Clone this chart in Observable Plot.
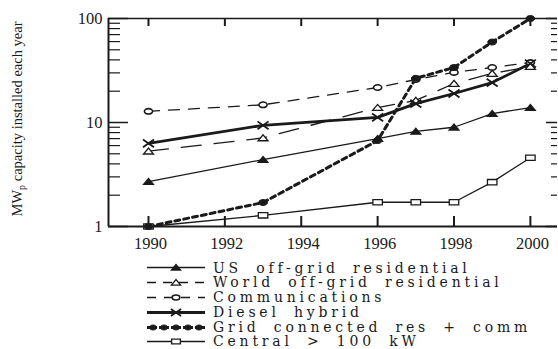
<!DOCTYPE html>
<html><head><meta charset="utf-8">
<script src="https://cdn.jsdelivr.net/npm/d3@7"></script>
<script src="https://cdn.jsdelivr.net/npm/@observablehq/plot@0.6"></script>
<style>
body{margin:0;background:#fff;width:558px;height:349px;overflow:hidden;position:relative;font-family:"Liberation Serif",serif;}
#chart{position:absolute;left:0;top:0;}
#legend{position:absolute;left:147px;top:260.5px;}
.row{height:14.8px;display:flex;align-items:center;font-family:"DejaVu Serif",serif;font-size:14px;letter-spacing:3.8px;word-spacing:6px;color:#1a1a1a;white-space:nowrap;line-height:14.8px}
.row svg{margin-right:6px;flex:none}
</style></head><body>
<div id="chart"></div><div id="legend"></div>
<script>
// ---- data ----
const years = [1990, 1993, 1996, 1997, 1998, 1999, 2000];
const usOffGrid      = [2.7, 4.4, 7.0, 8.2, 9.0, 12.2, 13.9];
const worldOffGrid   = [5.3, 7.1, 13.9, 16.3, 23.7, 29.6, 34.5];
const communications = [12.8, 14.8, 21.7, 25.9, 30.3, 33.8, 37.7];
const dieselHybrid   = [6.3, 9.4, 11.2, 15.2, 19.0, 24.2, 36.9];
const gridConnected  = [1.0, 1.7, 6.7, 26.6, 33.8, 59.4, 100];
const central        = [1.0, 1.28, 1.71, 1.71, 1.71, 2.67, 4.58];
const seriesNames = ["US off-grid residential", "World off-grid residential", "Communications",
  "Diesel hybrid", "Grid connected res + comm", "Central > 100 kW"];
const seriesValues = [usOffGrid, worldOffGrid, communications, dieselHybrid, gridConnected, central];
const xTicks = [1990, 1992, 1994, 1996, 1998, 2000];
const yTicks = [1, 10, 100];
const yMinorTicks = [2, 3, 4, 5, 6, 7, 8, 9, 20, 30, 40, 50, 60, 70, 80, 90];
const yLabel = ["MW", "p", " capacity installed each year"];

// ---- marker shapes (horizontally stretched, like the scanned original) ----
const rOf = size => Math.sqrt(size / Math.PI);
const wideTriangle = {draw(c, size) { const r = rOf(size);
  c.moveTo(-1.25 * r, 0.7 * r); c.lineTo(1.25 * r, 0.7 * r); c.lineTo(0, -0.8 * r); c.closePath(); }};
const wideRect = {draw(c, size) { const r = rOf(size);
  c.moveTo(-1.25 * r, -0.7 * r); c.lineTo(1.25 * r, -0.7 * r); c.lineTo(1.25 * r, 0.7 * r); c.lineTo(-1.25 * r, 0.7 * r); c.closePath(); }};
const wideEllipse = {draw(c, size) { const r = rOf(size), a = 1.2 * r, b = 0.8 * r, k = 0.5523;
  c.moveTo(a, 0);
  c.bezierCurveTo(a, k * b, k * a, b, 0, b);
  c.bezierCurveTo(-k * a, b, -a, k * b, -a, 0);
  c.bezierCurveTo(-a, -k * b, -k * a, -b, 0, -b);
  c.bezierCurveTo(k * a, -b, a, -k * b, a, 0);
  c.closePath(); }};
const wideTimes = {draw(c, size) { const r = rOf(size);
  c.moveTo(-1.2 * r, -0.85 * r); c.lineTo(1.2 * r, 0.85 * r);
  c.moveTo(-1.2 * r, 0.85 * r); c.lineTo(1.2 * r, -0.85 * r); }};

// ---- styles ----
const ink = "#1a1a1a";
const styles = [
  {strokeWidth: 1.3, dash: null, symbol: wideTriangle, fill: ink, r: 4, sw: 1.2},
  {strokeWidth: 1.3, dash: "20,13", symbol: wideTriangle, fill: "white", r: 4, sw: 1.3},
  {strokeWidth: 1.3, dash: "11,9", symbol: wideEllipse, fill: "white", r: 3.4, sw: 1.6},
  {strokeWidth: 2.8, dash: null, symbol: wideTimes, fill: "none", r: 4.6, sw: 1.8},
  {strokeWidth: 3, dash: "5,4", symbol: wideEllipse, fill: ink, r: 3.7, sw: 1},
  {strokeWidth: 1.3, dash: null, symbol: wideRect, fill: "white", r: 3.8, sw: 1.3}
];

const rows = [];
seriesValues.forEach((vals, i) => years.forEach((yr, j) => rows.push({idx: i, year: yr, value: vals[j]})));

const W = 558, H = 262, mL = 108, mR = 1, mT = 18, mB = 36;
const pw = W - mL - mR, ph = H - mT - mB;
const xMin = 1988.953, xMax = 2000.71;

const order = [5, 0, 2, 1, 3, 4];
const marks = [];
for (const i of order) {
  const s = styles[i];
  marks.push(Plot.line(rows.filter(r => r.idx === i), {x: "year", y: "value", stroke: ink,
    strokeWidth: s.strokeWidth, strokeDasharray: s.dash}));
}
for (const i of order) {
  const s = styles[i];
  marks.push(Plot.dot(rows.filter(r => r.idx === i), {x: "year", y: "value", symbol: s.symbol, r: s.r,
    fill: s.fill, stroke: ink, strokeWidth: s.sw}));
}

const chart = Plot.plot({
  width: W, height: H,
  marginLeft: mL, marginRight: mR, marginTop: mT, marginBottom: mB,
  style: {fontFamily: "Liberation Serif, serif", background: "transparent", overflow: "visible"},
  x: {domain: [xMin, xMax]},
  y: {type: "log", domain: [1, 100]},
  marks: [
    Plot.ruleX([xMin], {stroke: ink, strokeWidth: 2}),
    Plot.ruleY([1], {stroke: ink, strokeWidth: 2}),
    Plot.ruleY([100], {stroke: ink, strokeWidth: 1.5}),
    Plot.tickX(xTicks, {x: d => d, insetTop: ph - 10, stroke: ink, strokeWidth: 2}),
    Plot.tickX(xTicks, {x: d => d, insetBottom: ph - 8, stroke: ink, strokeWidth: 2}),
    Plot.tickY(yTicks, {y: d => d, insetRight: pw - 20, stroke: ink, strokeWidth: 1.5}),
    Plot.tickY(yMinorTicks, {y: d => d, insetRight: pw - 12, stroke: ink, strokeWidth: 1.2}),
    Plot.tickY(yTicks, {y: d => d, insetLeft: pw - 11, stroke: ink, strokeWidth: 1.5}),
    Plot.tickY(yMinorTicks, {y: d => d, insetLeft: pw - 6, stroke: ink, strokeWidth: 1.2}),
    Plot.axisX(xTicks, {tickSize: 0, tickPadding: 11, fontSize: 16.5, tickFormat: d => String(d), label: null,
      fill: ink, dx: 2, style: "letter-spacing:4px"}),
    Plot.axisY(yTicks, {tickSize: 0, tickPadding: 6, fontSize: 16.5, tickFormat: d => String(d), label: null,
      fill: ink, style: "letter-spacing:4px"}),
    ...marks
  ]
});
document.getElementById("chart").appendChild(chart);

// y-axis label with subscript
const lab = d3.select(chart).append("text")
  .attr("transform", "translate(19,119) rotate(-90)")
  .attr("text-anchor", "middle")
  .attr("dominant-baseline", "middle")
  .attr("font-size", 14.5)
  .attr("fill", ink)
  .attr("font-family", "Liberation Serif, serif");
lab.append("tspan").text(yLabel[0]);
lab.append("tspan").attr("font-size", 10).attr("dy", 4).text(yLabel[1]);
lab.append("tspan").attr("dy", -4).text(yLabel[2]);

// legend
const legend = d3.select("#legend");
seriesNames.forEach((name, i) => {
  const s = styles[i];
  const row = legend.append("div").attr("class", "row");
  const svg = row.append("svg").attr("width", 60).attr("height", 15);
  const legDash = i === 1 ? "9,7" : i === 2 ? "9,8" : i === 4 ? "4,2" : s.dash;
  svg.append("line").attr("x1", 0).attr("x2", 58).attr("y1", 7.5).attr("y2", 7.5)
    .attr("stroke", ink).attr("stroke-width", s.strokeWidth).attr("stroke-dasharray", legDash);
  const xs = i === 4 ? [6, 17, 29, 41, 52] : [29];
  xs.forEach(cx => {
    svg.append("path")
      .attr("d", d3.symbol(s.symbol, Math.PI * s.r * s.r * (i === 4 ? 0.7 : 0.85))())
      .attr("transform", `translate(${cx},7.5)`)
      .attr("fill", s.fill).attr("stroke", ink).attr("stroke-width", s.sw);
  });
  row.append("span").text(name);
});
</script>
</body></html>
